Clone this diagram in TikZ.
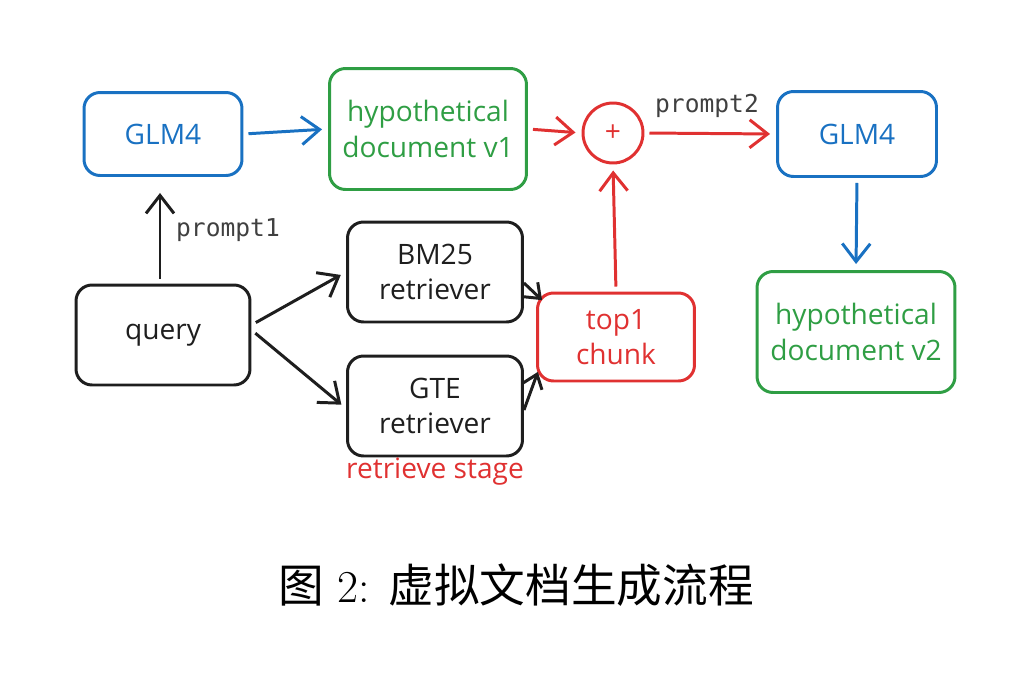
\documentclass[tikz,border=0pt]{standalone}
\usepackage{fontspec}
\usepackage{xcolor}
\usepackage{tikz}
\usetikzlibrary{arrows.meta}
\newfontfamily\handfont{Open Sans}
\newfontfamily\cjk{Noto Sans CJK SC}
\setmonofont{DejaVu Sans Mono}
\definecolor{xblue}{HTML}{1971C2}
\definecolor{xgreen}{HTML}{2F9E44}
\definecolor{xred}{HTML}{E03131}
\definecolor{xblack}{HTML}{1E1E1E}

\begin{document}
\begin{tikzpicture}[x=0.02cm,y=-0.02cm,
  box/.style={draw=xblack,text=xblack,rounded corners=0.32cm,line width=1.7pt,align=center,
    font=\handfont\fontsize{16}{20}\selectfont},
  bluebox/.style={box,draw=xblue,text=xblue},
  greenbox/.style={box,draw=xgreen,text=xgreen},
  redbox/.style={box,draw=xred,text=xred},
  arr/.style={line width=1.7pt,xblack,-{Straight Barb[length=0.36cm,width=0.56cm]},shorten <=0.1cm,shorten >=0.12cm},
  smallarr/.style={arr,-{Straight Barb[length=0.26cm,width=0.4cm]},shorten <=0cm,shorten >=0.04cm},
  mono/.style={font=\ttfamily\fontsize{14}{16}\selectfont,text=xblack!85}]
\useasboundingbox (0,0) rectangle (1031,687);
% top row
\node[bluebox,minimum width=3.16cm,minimum height=1.66cm] (glmA) at (163,134) {GLM4};
\node[greenbox,minimum width=3.94cm,minimum height=2.42cm] (hypA) at (428,129) {hypothetical\\document v1};
\node[circle,draw=xred,text=xred,line width=1.7pt,minimum size=1.2cm,inner sep=0pt,font=\handfont\fontsize{16}{16}\selectfont] (plus) at (613,133) {+};
\node[bluebox,minimum width=3.18cm,minimum height=1.7cm] (glmB) at (857,134) {GLM4};
\node[greenbox,minimum width=3.96cm,minimum height=2.42cm] (hypB) at (856,332) {hypothetical\\document v2};
% retrieve stage
\node[box,minimum width=3.48cm,minimum height=2cm] (query) at (163,335) {query};
\node[box,minimum width=3.5cm,minimum height=2cm] (bm) at (435,272) {BM25\\retriever};
\node[box,minimum width=3.5cm,minimum height=2cm] (gte) at (435,406) {GTE\\retriever};
\node[redbox,minimum width=3.14cm,minimum height=1.76cm] (top) at (616,337) {top1\\chunk};
\node[text=xred,font=\handfont\fontsize{16}{18}\selectfont] (stage) at (435,472) {retrieve stage};
\node[mono] (pA) at (228,230) {prompt1};
\node[mono] (pB) at (707,106) {prompt2};
% arrows
\draw[arr,xblue] (glmA.east) -- (hypA.west);
\draw[arr,xred] (hypA.east) -- (plus.west);
\draw[arr,xred] (plus.east) -- (glmB.west);
\draw[arr,xblue] (glmB.south) -- (hypB.north);
\draw[arr,xred] (top.north) -- (plus.south);
\draw[arr] ([yshift=0.2cm]query.east) -- (bm.west);
\draw[arr] ([yshift=0.1cm]query.east) -- ([yshift=-0.05cm]gte.west);
\draw[smallarr] ([yshift=-0.22cm]bm.east) -- ([xshift=0.15cm,yshift=-0.2cm]top.north west);
\draw[smallarr] ([yshift=-0.08cm]gte.east) -- ([xshift=0.05cm,yshift=0.25cm]top.south west);
\draw[arr,shorten >=0.32cm] ([xshift=-0.06cm]query.north) -- ([xshift=-0.06cm]glmA.south);
% caption
\node[font=\fontsize{26}{30}\selectfont] (cap) at (516,585) {{\cjk 图}\ 2: {\cjk 虚拟文档生成流程}};
\end{tikzpicture}
\end{document}
